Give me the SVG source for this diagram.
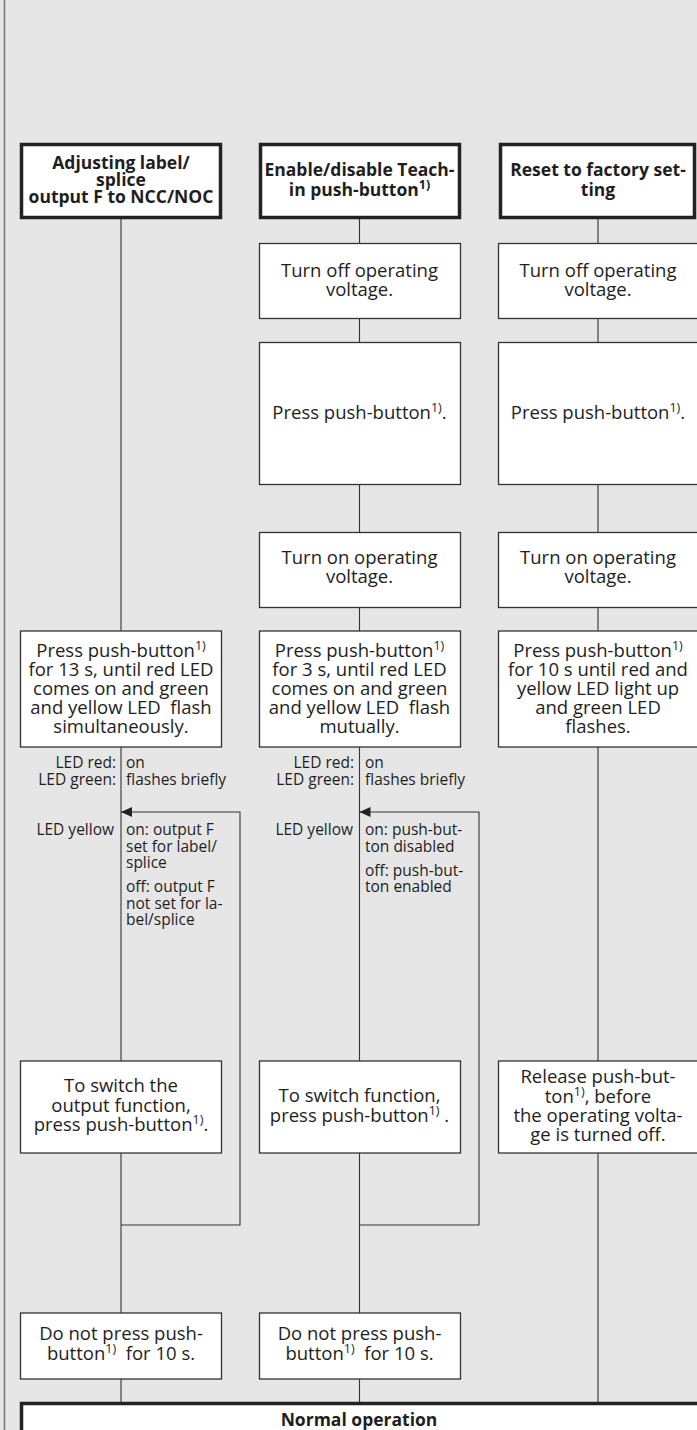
<svg xmlns="http://www.w3.org/2000/svg" width="697" height="1430" viewBox="0 0 697 1430">
<style>
.hb{fill:#fff;stroke:#222;stroke-width:3.5}
.b{fill:#fff;stroke:#333;stroke-width:1.3}
.c{fill:none;stroke:#333;stroke-width:1.1}
text{font-family:"Open Sans","Noto Sans",sans-serif;fill:#1e1e1e}
.h{font-size:17.5px;font-weight:bold;text-anchor:middle}
.t{font-size:18.5px;text-anchor:middle}
.l{font-size:15.5px}
.r{text-anchor:end}
.s{font-size:12.5px}
</style>
<defs>
<marker id="ah" viewBox="0 0 11 10" refX="11" refY="5" markerWidth="11" markerHeight="10" markerUnits="userSpaceOnUse" orient="auto">
<path d="M0,0 L11,5 L0,10 Z" fill="#222"/>
</marker>
</defs>
<rect width="697" height="1430" fill="#e6e6e6"/>
<line x1="4.5" y1="0" x2="4.5" y2="1430" stroke="#7a7a7a" stroke-width="1.6"/>

<g id="connectors">
<path class="c" d="M121,219 V631 M121,747 V1061 M121,1153 V1313 M121,1379 V1402"/>
<path class="c" d="M359.5,219 V243 M359.5,318 V342 M359.5,484 V532 M359.5,607 V631 M359.5,747 V1061 M359.5,1153 V1313 M359.5,1379 V1402"/>
<path class="c" d="M598,219 V243 M598,318 V342 M598,484 V532 M598,607 V631 M598,747 V1061 M598,1153 V1402"/>
<path class="c" d="M121,1225 H240 V812 H121" marker-end="url(#ah)"/>
<path class="c" d="M359.5,1225 H479 V812 H359.5" marker-end="url(#ah)"/>
</g>

<g id="h1">
<rect class="hb" x="21.5" y="144.5" width="199" height="73"/>
<text class="h" x="121" y="169">Adjusting label/<tspan x="121" y="186">splice</tspan><tspan x="121" y="203">output F to NCC/NOC</tspan></text>
</g>
<g id="h2">
<rect class="hb" x="260.5" y="144.5" width="199" height="73"/>
<text class="h" x="359.5" y="176">Enable/disable Teach-<tspan x="359.5" y="196">in push-button</tspan><tspan class="s" dy="-7">1)</tspan></text>
</g>
<g id="h3">
<rect class="hb" x="500.5" y="144.5" width="194" height="73"/>
<text class="h" x="598" y="176">Reset to factory set-<tspan x="598" y="196">ting</tspan></text>
</g>

<g id="c2_off">
<rect class="b" x="259.5" y="243.5" width="201" height="75"/>
<text class="t" x="359.5" y="277">Turn off operating<tspan x="359.5" y="296">voltage.</tspan></text>
</g>
<g id="c3_off">
<rect class="b" x="498.5" y="243.5" width="220" height="75"/>
<text class="t" x="598" y="277">Turn off operating<tspan x="598" y="296">voltage.</tspan></text>
</g>

<g id="c2_press">
<rect class="b" x="259.5" y="342.5" width="201" height="142"/>
<text class="t" x="359.5" y="419">Press push-button<tspan class="s" dy="-7">1)</tspan><tspan dy="7">.</tspan></text>
</g>
<g id="c3_press">
<rect class="b" x="498.5" y="342.5" width="220" height="142"/>
<text class="t" x="598" y="419">Press push-button<tspan class="s" dy="-7">1)</tspan><tspan dy="7">.</tspan></text>
</g>

<g id="c2_on">
<rect class="b" x="259.5" y="532.5" width="201" height="75"/>
<text class="t" x="359.5" y="564">Turn on operating<tspan x="359.5" y="583">voltage.</tspan></text>
</g>
<g id="c3_on">
<rect class="b" x="498.5" y="532.5" width="220" height="75"/>
<text class="t" x="598" y="564">Turn on operating<tspan x="598" y="583">voltage.</tspan></text>
</g>

<g id="c1_hold">
<rect class="b" x="20.5" y="631" width="201" height="116"/>
<text class="t" x="121" y="657">Press push-button<tspan class="s" dy="-7">1)</tspan><tspan x="121" y="676">for 13 s, until red LED</tspan><tspan x="121" y="695">comes on and green</tspan><tspan x="121" y="714">and yellow LED&#160; flash</tspan><tspan x="121" y="733">simultaneously.</tspan></text>
</g>
<g id="c2_hold">
<rect class="b" x="259.5" y="631" width="201" height="116"/>
<text class="t" x="359.5" y="657">Press push-button<tspan class="s" dy="-7">1)</tspan><tspan x="359.5" y="676">for 3 s, until red LED</tspan><tspan x="359.5" y="695">comes on and green</tspan><tspan x="359.5" y="714">and yellow LED&#160; flash</tspan><tspan x="359.5" y="733">mutually.</tspan></text>
</g>
<g id="c3_hold">
<rect class="b" x="498.5" y="631" width="220" height="116"/>
<text class="t" x="598" y="657">Press push-button<tspan class="s" dy="-7">1)</tspan><tspan x="598" y="676">for 10 s until red and</tspan><tspan x="598" y="695">yellow LED light up</tspan><tspan x="598" y="714">and green LED</tspan><tspan x="598" y="733">flashes.</tspan></text>
</g>

<g id="c1_led">
<text class="l r" x="116" y="768">LED red:<tspan x="116" y="785">LED green:</tspan></text>
<text class="l" x="126" y="768">on<tspan x="126" y="785">flashes briefly</tspan></text>
<text class="l r" x="114" y="835">LED yellow</text>
<text class="l" x="126" y="835">on: output F<tspan x="126" y="851.5">set for label/</tspan><tspan x="126" y="868">splice</tspan><tspan x="126" y="892">off: output F</tspan><tspan x="126" y="908.5">not set for la-</tspan><tspan x="126" y="925">bel/splice</tspan></text>
</g>
<g id="c2_led">
<text class="l r" x="354" y="768">LED red:<tspan x="354" y="785">LED green:</tspan></text>
<text class="l" x="365" y="768">on<tspan x="365" y="785">flashes briefly</tspan></text>
<text class="l r" x="353" y="835">LED yellow</text>
<text class="l" x="365" y="835">on: push-but-<tspan x="365" y="851.5">ton disabled</tspan><tspan x="365" y="875.5">off: push-but-</tspan><tspan x="365" y="892">ton enabled</tspan></text>
</g>

<g id="c1_switch">
<rect class="b" x="20.5" y="1061" width="201" height="92"/>
<text class="t" x="121" y="1092">To switch the<tspan x="121" y="1112">output function,</tspan><tspan x="121" y="1131">press push-button</tspan><tspan class="s" dy="-7">1)</tspan><tspan dy="7">.</tspan></text>
</g>
<g id="c2_switch">
<rect class="b" x="259.5" y="1061" width="201" height="92"/>
<text class="t" x="359.5" y="1102">To switch function,<tspan x="359.5" y="1122">press push-button</tspan><tspan class="s" dy="-7">1)</tspan><tspan dy="7"> .</tspan></text>
</g>
<g id="c3_release">
<rect class="b" x="498.5" y="1061" width="220" height="92"/>
<text class="t" x="598" y="1083">Release push-but-<tspan x="598" y="1103">ton</tspan><tspan class="s" dy="-7">1)</tspan><tspan dy="7">, before</tspan><tspan x="598" y="1122">the operating volta-</tspan><tspan x="598" y="1141">ge is turned off.</tspan></text>
</g>

<g id="c1_wait">
<rect class="b" x="20.5" y="1313" width="201" height="66"/>
<text class="t" x="121" y="1340">Do not press push-<tspan x="121" y="1360">button</tspan><tspan class="s" dy="-7">1)</tspan><tspan dy="7">&#160; for 10 s.</tspan></text>
</g>
<g id="c2_wait">
<rect class="b" x="259.5" y="1313" width="201" height="66"/>
<text class="t" x="359.5" y="1340">Do not press push-<tspan x="359.5" y="1360">button</tspan><tspan class="s" dy="-7">1)</tspan><tspan dy="7">&#160; for 10 s.</tspan></text>
</g>

<g id="normal">
<rect class="hb" x="21.5" y="1403.5" width="690" height="60"/>
<text class="h" x="359" y="1426">Normal operation</text>
</g>
</svg>
